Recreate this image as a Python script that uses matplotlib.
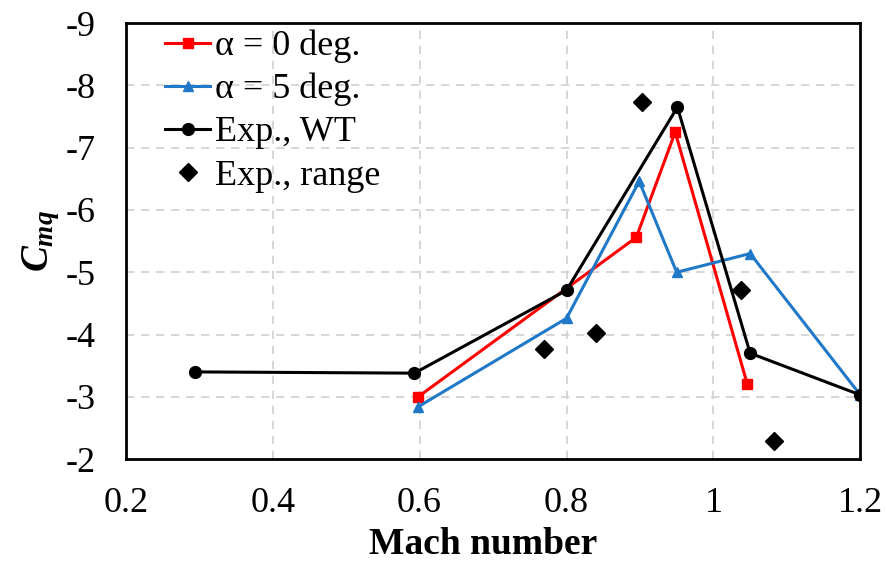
import matplotlib.pyplot as plt

plt.rcParams['font.family'] = 'Liberation Serif'
plt.rcParams['axes.unicode_minus'] = False
plt.rcParams['mathtext.fontset'] = 'custom'
plt.rcParams['mathtext.it'] = 'Liberation Serif:italic:bold'
plt.rcParams['mathtext.rm'] = 'Liberation Serif:bold'

# alpha = 0 deg.
mach_a0 = [0.598, 0.895, 0.948, 1.046]
cmq_a0 = [-3.00, -5.56, -7.25, -3.21]

# alpha = 5 deg.
mach_a5 = [0.598, 0.80, 0.899, 0.95, 1.05, 1.20]
cmq_a5 = [-2.84, -4.26, -6.46, -5.00, -5.30, -3.03]

# Exp., WT
mach_wt = [0.294, 0.593, 0.80, 0.951, 1.05, 1.20]
cmq_wt = [-3.40, -3.38, -4.71, -7.65, -3.70, -3.03]

# Exp., range
mach_rng = [0.770, 0.840, 0.903, 1.038, 1.082]
cmq_rng = [-3.77, -4.03, -7.73, -4.71, -2.29]

fig = plt.figure(figsize=(8.86, 5.64), dpi=100)
ax = fig.add_axes([0.142, 0.186, 0.829, 0.773])

ax.plot(mach_a0, cmq_a0, color='#ff0000', lw=2.2, marker='s', ms=6.5, label='α = 0 deg.')
ax.plot(mach_a5, cmq_a5, color='#1f78c8', lw=2.2, marker='^', ms=7, label='α = 5 deg.')
ax.plot(mach_wt, cmq_wt, color='black', lw=2.2, marker='o', ms=8.5, label='Exp., WT')
ax.plot(mach_rng, cmq_rng, color='black', lw=0, marker='D', ms=9, label='Exp., range')

ax.set_xlim(0.2, 1.2)
ax.set_ylim(-2, -9)
ax.set_xticks([0.2, 0.4, 0.6, 0.8, 1.0, 1.2])
ax.set_xticklabels(['0.2', '0.4', '0.6', '0.8', '1', '1.2'])
ax.set_yticks(range(-9, -1))
ax.tick_params(length=0, labelsize=26)
ax.tick_params(axis='x', pad=20)
ax.tick_params(axis='y', pad=22)
ax.grid(True, color='#d0d0d0', ls=(0, (5, 4)), lw=1.2)
for s in ax.spines.values():
    s.set_linewidth(2)
    s.set_color('black')

ax.set_xlabel('Mach number', fontsize=27, fontweight='bold', labelpad=6)
ax.xaxis.set_label_coords(0.487, -0.155)
ax.set_ylabel('$C_{mq}$', fontsize=28, labelpad=2)

ax.legend(loc='upper left', frameon=False, fontsize=26, handlelength=1.25,
          handletextpad=0.14, borderaxespad=0, borderpad=0.4, labelspacing=0.27,
          bbox_to_anchor=(0.034, 1.018))

fig.savefig('out.png', dpi=100)
